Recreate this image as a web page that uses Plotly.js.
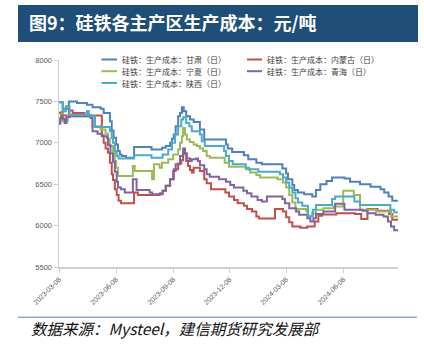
<!DOCTYPE html>
<html>
<head>
<meta charset="utf-8">
<script src="https://cdn.plot.ly/plotly-3.0.1.min.js"></script>
<style>
html,body{margin:0;padding:0;background:#fff;}
#chart{width:424px;height:351px;}
</style>
</head>
<body>
<div id="chart"></div>
<script>
// ---------- data ----------
const seriesNames = ['硅铁：生产成本：甘肃（日）','硅铁：生产成本：内蒙古（日）','硅铁：生产成本：宁夏（日）','硅铁：生产成本：青海（日）','硅铁：生产成本：陕西（日）'];
const seriesColors = ['#4F81BD','#C0504D','#9BBB59','#8064A2','#4BACC6'];

const gansuDates = ['2023-03-08','2023-03-14','2023-03-24','2023-04-06','2023-04-22','2023-05-01','2023-05-14','2023-05-19','2023-05-29','2023-06-01','2023-06-04','2023-06-08','2023-06-11','2023-06-14','2023-06-17','2023-06-24','2023-07-07','2023-08-04','2023-08-21','2023-08-27','2023-09-03','2023-09-06','2023-09-09','2023-09-12','2023-09-16','2023-09-19','2023-09-22','2023-09-25','2023-09-29','2023-10-05','2023-10-11','2023-10-21','2023-10-28','2023-12-02','2023-12-05','2023-12-12','2023-12-31','2024-01-07','2024-01-20','2024-01-29','2024-03-02','2024-03-08','2024-03-11','2024-03-18','2024-03-21','2024-03-27','2024-04-06','2024-04-19','2024-04-25','2024-05-02','2024-05-12','2024-05-21','2024-06-10','2024-06-19','2024-07-05','2024-07-22','2024-08-07','2024-08-13','2024-08-20','2024-08-26','2024-09-04'];
const gansuValues = [7490,7410,7500,7480,7460,7430,7410,7360,7260,7150,7060,6980,6900,6860,6840,6820,6950,6920,6940,6960,7000,7050,7100,7200,7320,7360,7430,7380,7320,7280,7250,7160,7040,6980,6930,6890,6850,6800,6760,6740,6690,6630,6560,6490,6430,6400,6380,6350,6430,6500,6540,6580,6570,6530,6500,6470,6440,6400,6350,6300,6300];

const neimengguDates = ['2023-03-08','2023-03-11','2023-03-14','2023-03-24','2023-03-30','2023-04-18','2023-05-16','2023-05-19','2023-05-22','2023-05-26','2023-05-29','2023-06-01','2023-06-03','2023-06-06','2023-06-09','2023-06-12','2023-06-16','2023-07-07','2023-07-13','2023-08-17','2023-08-22','2023-08-27','2023-09-03','2023-09-09','2023-09-16','2023-09-21','2023-09-24','2023-09-29','2023-10-02','2023-10-05','2023-10-08','2023-10-11','2023-10-21','2023-10-28','2023-11-01','2023-11-08','2023-12-01','2023-12-07','2023-12-15','2023-12-21','2023-12-31','2024-01-05','2024-01-13','2024-01-20','2024-01-24','2024-02-19','2024-03-03','2024-03-08','2024-03-13','2024-03-18','2024-03-31','2024-04-11','2024-04-23','2024-04-29','2024-05-05','2024-05-28','2024-06-27','2024-07-07','2024-07-17','2024-08-02','2024-08-21','2024-08-26','2024-09-04'];
const neimengguValues = [7360,7370,7330,7390,7360,7330,7090,7000,6930,6880,6760,6620,6550,6440,6370,6300,6270,6400,6370,6380,6420,6480,6560,6680,6750,6790,6870,6780,6720,6670,6640,6700,6660,6560,6510,6440,6400,6350,6310,6270,6240,6200,6170,6110,6085,6200,6170,6100,6040,5990,5975,5990,6050,6120,6135,6150,6140,6080,6200,6180,6140,6070,6060];

const ningxiaDates = ['2023-03-08','2023-03-11','2023-03-14','2023-03-22','2023-04-28','2023-05-01','2023-05-14','2023-05-22','2023-05-26','2023-05-29','2023-06-03','2023-06-06','2023-06-08','2023-06-11','2023-07-05','2023-07-08','2023-08-05','2023-08-08','2023-08-17','2023-08-21','2023-08-31','2023-09-08','2023-09-16','2023-09-19','2023-09-22','2023-09-24','2023-09-27','2023-09-30','2023-10-05','2023-10-11','2023-10-16','2023-10-21','2023-10-26','2023-11-01','2023-11-06','2023-11-30','2023-12-07','2024-01-03','2024-01-10','2024-01-20','2024-01-26','2024-02-23','2024-03-03','2024-03-08','2024-03-13','2024-03-18','2024-03-23','2024-04-09','2024-04-12','2024-04-19','2024-04-25','2024-05-07','2024-05-23','2024-06-08','2024-06-25','2024-07-05','2024-07-31','2024-08-24','2024-09-04'];
const ningxiaValues = [7260,7350,7260,7320,7300,7200,7160,7110,7050,6960,6890,6780,6700,6600,6720,6660,6560,6740,6700,6760,6800,6860,6920,7000,7080,7180,7100,7040,7010,6980,6960,6930,6900,6840,6820,6760,6710,6680,6640,6610,6580,6560,6520,6460,6370,6280,6200,6180,6120,6150,6190,6210,6230,6420,6370,6190,6170,6110,6100];

const qinghaiDates = ['2023-03-08','2023-03-10','2023-03-12','2023-03-14','2023-03-17','2023-03-20','2023-03-25','2023-04-28','2023-05-01','2023-05-09','2023-05-16','2023-05-24','2023-05-26','2023-05-30','2023-06-03','2023-06-06','2023-06-09','2023-06-11','2023-06-16','2023-06-22','2023-07-05','2023-07-11','2023-08-01','2023-08-05','2023-08-18','2023-08-22','2023-08-27','2023-09-03','2023-09-08','2023-09-12','2023-09-19','2023-09-24','2023-09-27','2023-09-30','2023-10-05','2023-10-08','2023-10-15','2023-10-18','2023-10-21','2023-10-28','2023-11-01','2023-11-06','2023-11-21','2023-12-02','2023-12-09','2023-12-15','2023-12-30','2024-01-05','2024-01-12','2024-01-22','2024-01-29','2024-02-06','2024-03-02','2024-03-06','2024-03-13','2024-03-24','2024-03-29','2024-04-11','2024-04-16','2024-04-21','2024-04-25','2024-05-07','2024-05-26','2024-06-10','2024-07-09','2024-07-17','2024-07-30','2024-08-12','2024-08-19','2024-08-24','2024-08-29','2024-09-04'];
const qinghaiValues = [7230,7300,7330,7290,7240,7310,7320,7300,7140,7110,7080,7060,6970,6870,6770,6650,6530,6460,6440,6400,6560,6430,6400,6380,6390,6420,6480,6560,6660,6740,6840,6930,6870,6810,6780,6800,6810,6780,6730,6680,6620,6590,6560,6530,6490,6460,6420,6390,6350,6310,6290,6350,6320,6270,6210,6170,6130,6090,6050,6090,6140,6170,6265,6190,6180,6150,6130,6110,6050,5990,5945,5935];

const shaanxiDates = ['2023-03-08','2023-03-14','2023-03-19','2023-03-25','2023-04-22','2023-04-25','2023-04-28','2023-05-05','2023-05-29','2023-06-01','2023-06-03','2023-06-06','2023-06-09','2023-06-12','2023-07-07','2023-08-04','2023-08-22','2023-08-31','2023-09-06','2023-09-11','2023-09-16','2023-09-21','2023-09-24','2023-09-29','2023-10-04','2023-10-08','2023-10-21','2023-10-24','2023-10-29','2023-11-29','2023-12-02','2023-12-07','2023-12-13','2024-01-03','2024-01-08','2024-01-23','2024-02-27','2024-03-03','2024-03-08','2024-03-13','2024-03-18','2024-03-23','2024-03-27','2024-04-03','2024-04-12','2024-04-20','2024-04-25','2024-05-21','2024-05-26','2024-06-26','2024-07-05','2024-08-23','2024-08-29','2024-09-04'];
const shaanxiValues = [7490,7380,7440,7340,7385,7340,7320,7190,7140,7060,7000,6900,6840,6810,6850,6820,6860,6920,7000,7100,7200,7280,7310,7240,7200,7140,7100,7020,6960,6900,6840,6780,6740,6700,6680,6650,6620,6580,6520,6460,6400,6330,6280,6240,6110,6190,6250,6320,6350,6290,6250,6190,6160,6160];

const tickDates = ['2023-03-08','2023-06-08','2023-09-08','2023-12-08','2024-03-08','2024-06-08'];
const yTicks = [5500,6000,6500,7000,7500,8000];
const titleText = '图9：硅铁各主产区生产成本：元/吨';
const sourceText = '数据来源：Mysteel，建信期货研究发展部';

// ---------- layout helpers ----------
const W = 424, H = 351;
const M = {l: 59, r: 26, t: 60, b: 84};
const PW = W - M.l - M.r, PH = H - M.t - M.b;
const X = px => (px - M.l) / PW;
const Y = py => (H - M.b - py) / PH;

const allDates = [gansuDates, neimengguDates, ningxiaDates, qinghaiDates, shaanxiDates];
const allValues = [gansuValues, neimengguValues, ningxiaValues, qinghaiValues, shaanxiValues];

const traces = allDates.map((d, i) => ({
  type: 'scatter', mode: 'lines', name: seriesNames[i],
  x: d, y: allValues[i],
  line: {color: seriesColors[i], width: 2, shape: 'hv'},
  showlegend: false, hoverinfo: 'skip'
}));

// custom legend (3 rows x 2 columns, row-major like the original)
const legendPos = [
  {lx0: 101.5, lx1: 117, tx: 120, y: 59.5},
  {lx0: 247, lx1: 262, tx: 265, y: 59.5},
  {lx0: 101.5, lx1: 117, tx: 120, y: 71.2},
  {lx0: 247, lx1: 262, tx: 265, y: 71.2},
  {lx0: 101.5, lx1: 117, tx: 120, y: 83}
];
const shapes = [
  {type: 'rect', xref: 'paper', yref: 'paper', x0: X(18), x1: X(418), y0: Y(42), y1: Y(5),
   fillcolor: '#1F4E79', line: {width: 0}, layer: 'above'},
  {type: 'line', xref: 'paper', yref: 'paper', x0: X(18), x1: X(417), y0: Y(317.3), y1: Y(317.3),
   line: {color: '#8EAADB', width: 1.5}}
];
const annotations = [
  {xref: 'paper', yref: 'paper', x: X(29), y: Y(328), xanchor: 'left', yanchor: 'middle',
   text: sourceText, showarrow: false,
   font: {family: '"Noto Sans CJK SC", sans-serif', size: 15.5, color: '#111', style: 'italic'}}
];
legendPos.forEach((p, i) => {
  shapes.push({type: 'line', xref: 'paper', yref: 'paper', x0: X(p.lx0), x1: X(p.lx1), y0: Y(p.y), y1: Y(p.y),
    line: {color: seriesColors[i], width: 2}});
  annotations.push({xref: 'paper', yref: 'paper', x: X(p.tx), y: Y(p.y), xanchor: 'left', yanchor: 'middle',
    text: seriesNames[i], showarrow: false,
    font: {family: '"Noto Sans CJK SC", sans-serif', size: 8, color: '#404040'}});
});

const layout = {
  width: W, height: H,
  margin: M,
  paper_bgcolor: '#ffffff', plot_bgcolor: '#ffffff',
  font: {family: '"Liberation Sans", Arial, sans-serif', color: '#595959'},
  title: {text: titleText, xref: 'container', yref: 'container', x: 29 / W, xanchor: 'left',
          y: 1 - 24 / H, yanchor: 'middle',
          font: {family: '"Noto Sans CJK SC", sans-serif', size: 18, color: '#ffffff', weight: 'bold'}},
  xaxis: {
    type: 'date', range: ['2023-03-08', '2024-09-04 06:00'],
    tickvals: tickDates, ticktext: tickDates, tickangle: -45,
    tickfont: {size: 7, color: '#595959'},
    showline: true, linecolor: '#D0D0D0', linewidth: 1.5,
    ticks: 'outside', ticklen: 4, tickcolor: '#D0D0D0', tickwidth: 1,
    showgrid: false, zeroline: false, fixedrange: true
  },
  yaxis: {
    range: [5500, 8000], tickvals: yTicks, ticktext: yTicks.map(String),
    tickfont: {size: 7.5, color: '#595959'},
    showline: true, linecolor: '#D0D0D0', linewidth: 1.5,
    ticks: 'outside', ticklen: 4, tickcolor: '#D0D0D0', tickwidth: 1,
    showgrid: false, zeroline: false, fixedrange: true
  },
  shapes: shapes,
  annotations: annotations,
  showlegend: false
};

Plotly.newPlot('chart', traces, layout, {displayModeBar: false, staticPlot: true});
</script>
</body>
</html>
